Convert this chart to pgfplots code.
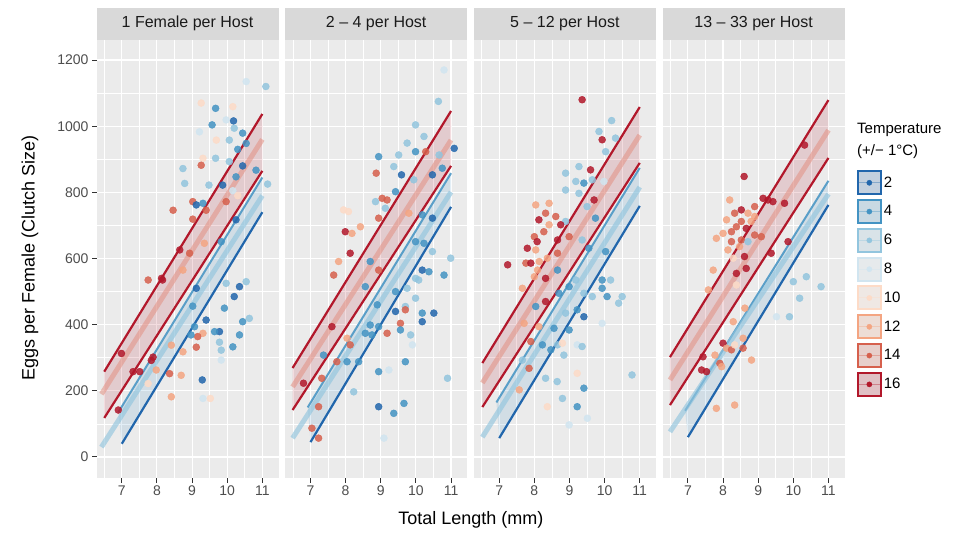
\documentclass[border=0pt]{standalone}
\usepackage{fontspec}
\setmainfont{Liberation Sans}
\usepackage{pgfplots}
\pgfplotsset{compat=1.18}
\usepgfplotslibrary{fillbetween}
\definecolor{c2}{HTML}{2166AC}
\definecolor{c4}{HTML}{4393C3}
\definecolor{c6}{HTML}{92C5DE}
\definecolor{c8}{HTML}{D1E5F0}
\definecolor{c10}{HTML}{FDDBC7}
\definecolor{c12}{HTML}{F4A582}
\definecolor{c14}{HTML}{D6604D}
\definecolor{c16}{HTML}{B2182B}
\definecolor{panelbg}{HTML}{EBEBEB}
\definecolor{stripbg}{HTML}{D9D9D9}
\definecolor{striptext}{HTML}{1A1A1A}
\definecolor{ticktext}{HTML}{4D4D4D}
\definecolor{tickcol}{HTML}{333333}

\pgfplotsset{
  panel/.style={
    scale only axis, width=182pt, height=438pt, anchor=south west,
    xmin=6.28, xmax=11.46, ymin=-63.5, ymax=1260.6,
    axis background/.style={fill=panelbg},
    axis line style={draw=none},
    xtick={7,8,9,10,11}, minor xtick={6.5,7.5,8.5,9.5,10.5},
    ytick={0,200,...,1200}, minor ytick={100,300,...,1100},
    grid=both,
    major grid style={white, line width=1.1pt},
    minor grid style={white, line width=0.55pt},
    tick align=outside, major tick length=4.5pt, minor tick length=0pt,
    tick pos=left,
    tick style={tickcol, line width=1pt},
    tick label style={font=\fontsize{14}{14}\selectfont, text=ticktext},
    /pgf/number format/assume math mode=true,
    /pgf/number format/1000 sep={},
    every axis title/.style={at={(0.5,1)}, anchor=south, fill=stripbg,
      minimum width=182pt, minimum height=32pt, inner sep=0pt,
      font=\fontsize{16}{16}\selectfont, text=striptext},
    scatter/classes={
      a={mark=*,draw=c2,fill=c2,opacity=0.85},
      b={mark=*,draw=c4,fill=c4,opacity=0.85},
      c={mark=*,draw=c6,fill=c6,opacity=0.85},
      d={mark=*,draw=c8,fill=c8,opacity=0.85},
      e={mark=*,draw=c10,fill=c10,opacity=0.85},
      f={mark=*,draw=c12,fill=c12,opacity=0.85},
      g={mark=*,draw=c14,fill=c14,opacity=0.85},
      h={mark=*,draw=c16,fill=c16,opacity=0.85}},
  },
  pts/.style={scatter, only marks, scatter src=explicit symbolic, mark size=3.5pt},
  rline/.style={c16, line width=2.2pt},
  rmid/.style={c14!70!white, opacity=0.55, line width=5pt},
  rfill/.style={fill=c16, fill opacity=0.15, draw=none},
  bbot/.style={c2, line width=2.2pt},
  btop/.style={c4, line width=2pt, opacity=0.85},
  bmid/.style={c6, opacity=0.65, line width=5pt},
  bfill/.style={fill=c4, fill opacity=0.15, draw=none},
  legimg/.style={legend image code/.code={
      \draw[draw=#1, line width=2pt, fill=#1!20!panelbg] (0pt,-11.5pt) rectangle (23pt,11.5pt);
      \draw[#1!50!panelbg, line width=1pt] (1pt,0pt) -- (22pt,0pt);
      \fill[#1] (11.5pt,0pt) circle (2.6pt);}},
}

\pgfplotstableread{
x y c
10.54 1135 d
11.10 1120 c
9.26 1070 e
9.67 1054 b
10.16 1059 e
9.97 1019 d
10.18 1016 a
9.57 1004 b
10.20 994 c
10.44 979 b
9.21 983 d
9.69 958 e
10.06 958 c
10.54 948 b
9.31 903 e
9.67 903 c
10.06 893 c
10.30 930 b
9.26 882 g
8.74 872 c
8.79 827 c
9.48 822 c
9.87 822 a
10.25 847 b
10.44 880 a
10.82 867 b
11.15 825 c
10.16 805 d
10.30 790 e
9.97 772 g
9.02 772 g
9.12 762 a
9.31 767 b
8.46 746 g
9.02 719 g
9.40 746 g
9.83 651 b
10.25 717 a
8.65 626 h
8.93 616 g
9.35 646 f
8.74 565 f
7.75 535 g
8.13 540 h
8.16 535 h
9.12 510 a
9.97 525 c
10.54 530 c
10.35 515 a
10.20 485 a
9.92 450 b
9.02 456 b
9.40 414 a
10.44 409 b
10.63 419 c
9.07 394 b
9.78 379 a
9.64 379 b
9.31 374 f
9.16 364 g
8.97 369 b
10.35 369 b
9.78 347 c
10.16 333 b
9.83 323 c
9.83 293 d
8.41 338 f
8.74 318 f
9.12 332 g
7.89 302 h
7.84 292 h
7.51 258 h
7.32 258 h
7.98 263 f
8.36 252 g
8.69 247 f
6.99 313 h
9.29 233 a
7.75 222 e
8.41 182 f
9.31 177 d
9.52 177 e
6.90 142 h
}\dataA

\pgfplotstableread{
x y c
10.80 1170 d
10.64 1075 c
9.99 1004 c
10.23 969 c
9.75 949 c
11.09 933 a
8.94 908 b
9.51 913 c
9.99 923 b
10.28 923 g
10.66 913 c
9.37 878 c
9.59 853 a
10.75 873 b
8.87 858 g
9.94 838 c
10.47 853 a
9.42 802 b
8.85 772 c
9.04 782 g
9.18 777 g
9.13 752 c
9.80 737 f
10.18 732 b
7.94 747 e
8.08 742 e
8.94 722 g
10.47 722 a
7.99 681 h
8.18 676 f
8.42 696 f
8.13 616 h
9.99 651 b
10.23 646 b
10.47 621 c
10.99 601 c
7.80 591 f
7.66 550 g
8.70 591 b
8.94 565 g
10.18 565 a
10.37 560 b
10.80 550 b
9.99 540 c
10.08 535 c
9.75 510 c
8.56 515 b
9.42 500 b
9.99 480 c
8.90 460 b
9.70 455 c
9.42 440 a
9.70 445 g
10.18 435 b
10.51 435 a
7.61 394 h
8.70 399 b
8.94 394 b
9.56 404 g
10.18 409 a
9.18 374 g
9.56 384 b
9.85 369 c
8.56 374 b
8.04 359 f
8.75 369 b
8.13 339 g
9.90 339 d
7.37 308 b
7.75 288 g
8.04 288 b
8.37 288 b
9.70 288 b
8.94 258 b
9.23 263 d
7.32 238 g
6.80 223 h
8.23 197 c
10.90 238 c
7.23 152 g
8.94 152 a
9.66 162 b
9.37 132 b
7.04 87 g
7.23 57 g
9.09 57 d
}\dataB

\pgfplotstableread{
x y c
9.36 1080 h
10.20 1017 c
9.84 984 c
9.93 959 h
10.03 923 c
10.31 964 c
9.27 878 c
8.89 858 c
9.60 868 h
9.18 833 c
9.41 828 b
9.65 838 c
9.98 833 d
8.89 807 c
9.27 797 c
9.70 777 h
8.42 767 f
8.04 762 f
8.32 737 g
8.61 727 g
8.13 717 h
8.89 712 c
9.50 757 c
9.74 722 b
8.42 702 f
8.75 702 h
8.27 681 g
8.00 666 g
8.66 656 h
8.08 651 h
8.99 666 g
9.36 656 c
9.55 631 b
7.80 631 h
8.04 626 f
8.66 616 g
8.37 601 f
10.03 621 b
7.76 586 g
7.90 586 h
7.24 581 h
8.14 591 f
8.09 565 f
8.00 545 f
8.32 540 h
9.18 535 c
8.66 565 b
8.99 515 b
9.93 535 b
10.17 535 c
7.66 510 f
8.70 495 b
9.41 495 c
9.65 485 c
9.93 510 b
10.50 485 c
10.40 465 c
10.07 485 b
8.32 470 h
9.22 445 b
8.89 435 c
9.41 424 a
8.04 455 b
9.93 404 d
7.71 404 f
8.13 394 f
8.56 389 b
8.99 384 b
7.90 349 g
8.23 339 b
8.66 339 c
8.47 324 b
8.80 344 e
9.22 339 d
9.36 334 c
8.84 308 c
7.66 293 c
7.85 268 g
8.32 238 c
8.65 228 c
9.22 253 e
10.78 248 c
9.41 208 b
7.57 203 f
8.80 177 c
8.37 152 e
9.22 152 b
9.51 117 d
8.99 97 d
}\dataC

\pgfplotstableread{
x y c
10.32 943 h
8.60 848 h
8.19 777 f
9.14 782 h
9.28 777 h
9.42 772 h
9.75 767 h
8.90 757 g
8.52 747 h
8.33 737 g
8.71 737 f
8.90 727 f
8.10 717 f
8.52 712 g
8.80 712 f
8.38 696 g
8.66 691 h
8.24 681 g
8.00 676 f
7.81 661 f
8.90 671 g
9.09 666 g
8.52 656 g
8.24 651 g
8.47 636 f
8.14 626 f
8.71 651 c
9.37 616 h
9.85 651 h
8.61 606 h
8.29 601 e
8.38 555 h
8.66 570 h
7.72 565 f
7.58 505 f
8.38 520 e
10.00 530 c
10.37 545 c
10.79 515 c
10.18 480 c
9.89 424 c
8.62 450 f
9.52 424 d
8.29 409 f
8.57 359 f
8.00 344 h
8.10 329 f
7.77 308 f
8.24 324 g
8.33 339 e
8.81 293 f
7.43 303 h
7.91 283 g
7.39 263 h
7.53 258 h
7.96 273 f
8.57 329 g
7.81 147 f
8.33 157 f
}\dataD

\begin{document}
\begin{tikzpicture}
\path (0pt,0pt) rectangle (965pt,533pt);

% Panel 1
\begin{axis}[panel, at={(96.5pt,55pt)}, title={1 Female per Host}]
\addplot[pts] table[meta=c] {\dataA};
\addplot[name path=bt1, btop] coordinates {(6.9,135) (11,845)};
\addplot[name path=bb1, bbot] coordinates {(7.0,40) (11,740)};
\addplot[bfill] fill between[of=bt1 and bb1];
\addplot[bmid] coordinates {(6.42,30) (11,790)};
\addplot[name path=rt1, rline] coordinates {(6.5,258) (11,1037)};
\addplot[name path=rb1, rline] coordinates {(6.5,118) (11,865)};
\addplot[rfill] fill between[of=rt1 and rb1];
\addplot[rmid] coordinates {(6.42,190) (11,960)};
\end{axis}

% Panel 2
\begin{axis}[panel, at={(285.2pt,55pt)}, title={2 – 4 per Host},
  yticklabels={}, ytick style={draw=none}]
\addplot[pts] table[meta=c] {\dataB};
\addplot[name path=bt2, btop] coordinates {(6.92,150) (11,858)};
\addplot[name path=bb2, bbot] coordinates {(7.0,45) (11,756)};
\addplot[bfill] fill between[of=bt2 and bb2];
\addplot[bmid] coordinates {(6.49,57) (11,801)};
\addplot[name path=rt2, rline] coordinates {(6.49,269) (11,1046)};
\addplot[name path=rb2, rline] coordinates {(6.49,142) (11,880)};
\addplot[rfill] fill between[of=rt2 and rb2];
\addplot[rmid] coordinates {(6.49,212) (11,958)};
\end{axis}

% Panel 3
\begin{axis}[panel, at={(473.9pt,55pt)}, title={5 – 12 per Host},
  yticklabels={}, ytick style={draw=none}]
\addplot[pts] table[meta=c] {\dataC};
\addplot[name path=bt3, btop] coordinates {(6.92,165) (11,874)};
\addplot[name path=bb3, bbot] coordinates {(7.0,57) (11,759)};
\addplot[bfill] fill between[of=bt3 and bb3];
\addplot[bmid] coordinates {(6.52,60) (11,816)};
\addplot[name path=rt3, rline] coordinates {(6.52,284) (11,1058)};
\addplot[name path=rb3, rline] coordinates {(6.52,151) (11,889)};
\addplot[rfill] fill between[of=rt3 and rb3];
\addplot[rmid] coordinates {(6.52,224) (11,973)};
\end{axis}

% Panel 4
\begin{axis}[panel, at={(662.6pt,55pt)}, title={13 – 33 per Host},
  yticklabels={}, ytick style={draw=none},
  legend style={at={(1.066,0.703)}, anchor=north west, draw=none, fill=none,
    font=\fontsize{15}{15}\selectfont, row sep=3.8pt, inner sep=0pt,
    cells={anchor=west}},
  legend cell align=left]
\addlegendimage{legimg=c2}
\addlegendimage{legimg=c4}
\addlegendimage{legimg=c6}
\addlegendimage{legimg=c8}
\addlegendimage{legimg=c10}
\addlegendimage{legimg=c12}
\addlegendimage{legimg=c14}
\addlegendimage{legimg=c16}
\addplot[pts] table[meta=c] {\dataD};
\addplot[name path=bt4, btop] coordinates {(6.92,140) (11,835)};
\addplot[name path=bb4, bbot] coordinates {(7.0,60) (11,762)};
\addplot[bfill] fill between[of=bt4 and bb4];
\addplot[bmid] coordinates {(6.49,76) (11,795)};
\addplot[name path=rt4, rline] coordinates {(6.49,302) (11,1079)};
\addplot[name path=rb4, rline] coordinates {(6.49,157) (11,904)};
\addplot[rfill] fill between[of=rt4 and rb4];
\addplot[rmid] coordinates {(6.49,233) (11,988)};
\legend{2,4,6,8,10,12,14,16}
\end{axis}

\node[anchor=west, font=\fontsize{15}{15}\selectfont, inner sep=0pt] at (857pt,403pt) {Temperature};
\node[anchor=west, font=\fontsize{15}{15}\selectfont, inner sep=0pt] at (857pt,381pt) {(+/− 1°C)};
\node[font=\fontsize{18}{18}\selectfont] at (470.8pt,13pt) {Total Length (mm)};
\node[font=\fontsize{18}{18}\selectfont, rotate=90] at (30pt,275pt) {Eggs per Female (Clutch Size)};
\end{tikzpicture}
\end{document}
